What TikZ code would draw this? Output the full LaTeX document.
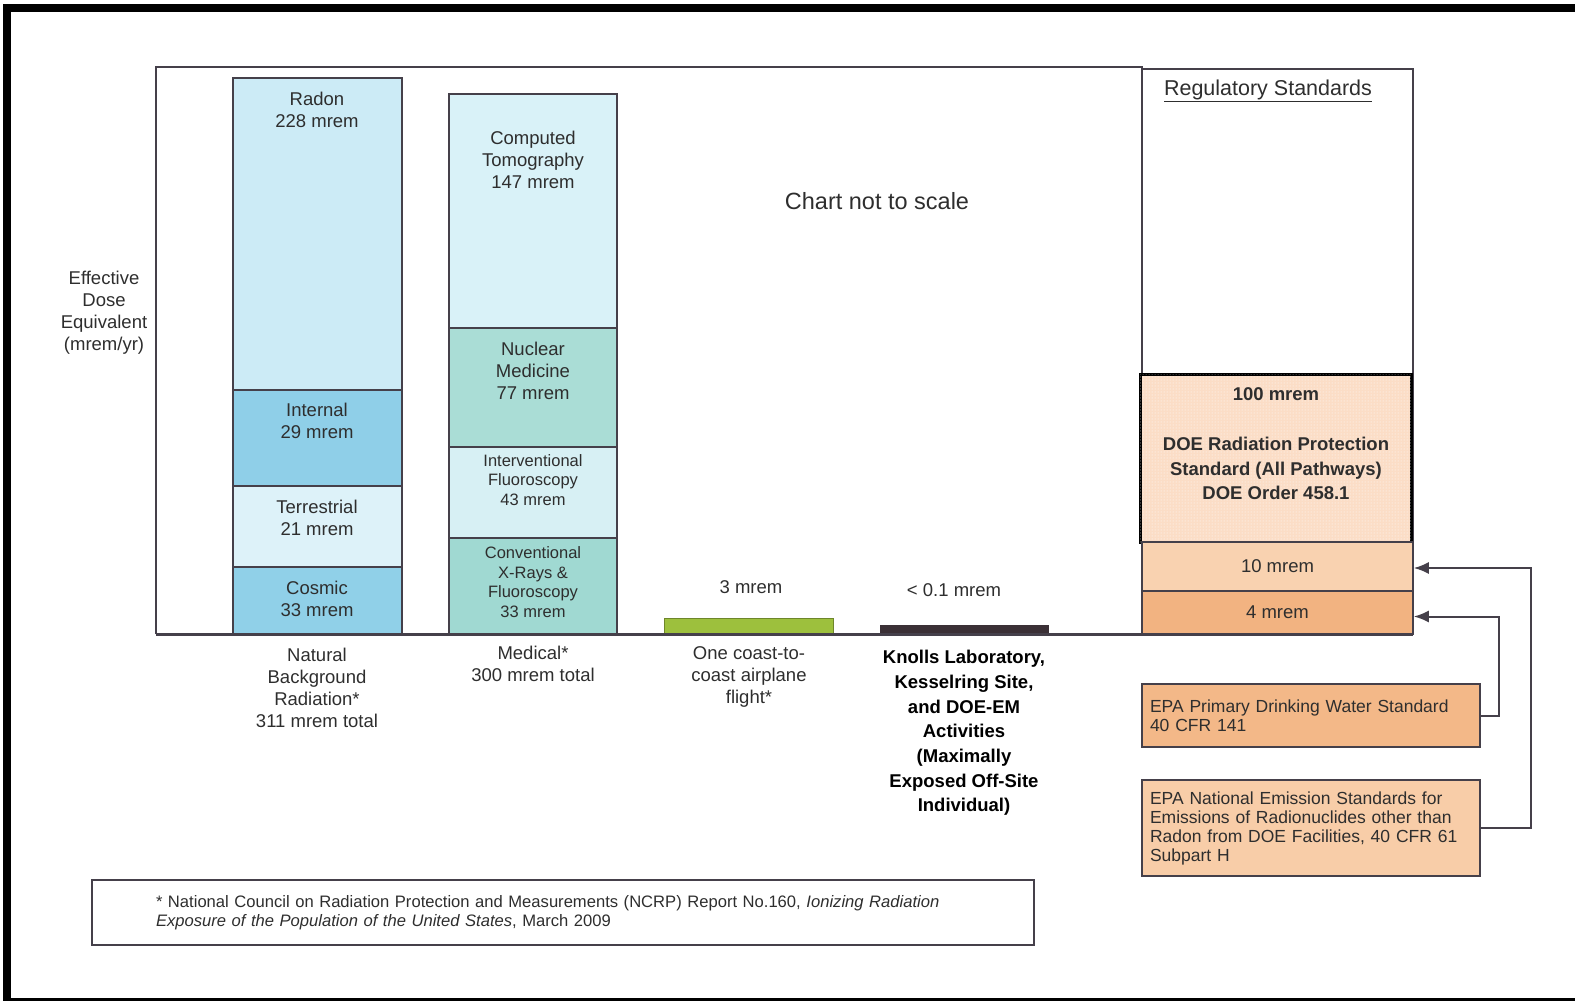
\documentclass[tikz,border=0pt]{standalone}
\usepackage{fontspec}
\setmainfont{Liberation Sans}
\usetikzlibrary{arrows.meta,patterns}

% fonts
\newcommand{\barfont}{\fontsize{18.5}{22}\selectfont}
\newcommand{\thinfont}{\fontsize{16.5}{19.5}\selectfont}
\newcommand{\epafont}{\fontsize{17.5}{19}\selectfont}
\newcommand{\notefont}{\fontsize{16.6}{18.5}\selectfont}
\newcommand{\bigfont}{\fontsize{23.5}{28}\selectfont}
\newcommand{\boldlbl}{\fontsize{18.5}{24.7}\selectfont\bfseries}

% colours
\definecolor{ink}{HTML}{2E2E2E}
\definecolor{edge}{HTML}{45404A}
\definecolor{radon}{HTML}{CCEBF6}
\definecolor{internal}{HTML}{8FCFE8}
\definecolor{terrestrial}{HTML}{DDF2F9}
\definecolor{cosmic}{HTML}{90D0E8}
\definecolor{ctscan}{HTML}{D9F2F8}
\definecolor{nucmed}{HTML}{AADDD6}
\definecolor{interv}{HTML}{D7F0F4}
\definecolor{xray}{HTML}{A0D9D2}
\definecolor{flight}{HTML}{9DC03D}
\definecolor{knolls}{HTML}{3B3036}
\definecolor{doepeach}{HTML}{FBDDC6}
\definecolor{tenmrem}{HTML}{F9D2B0}
\definecolor{fourmrem}{HTML}{F2B381}
\definecolor{epaprim}{HTML}{F3B888}
\definecolor{epanat}{HTML}{F8CDA8}

\begin{document}
\begin{tikzpicture}[x=1pt, y=-1pt,
  every node/.style={inner sep=0pt, align=center, text=ink, font=\barfont},
  seg/.style={draw=edge, line width=1.5pt},
  frame/.style={draw=edge, line width=2pt},
  regbox/.style={draw=edge, line width=1.5pt, minimum width=271pt},
  epabox/.style={draw=edge, line width=1.5pt, text width=322pt, align=left,
    inner xsep=8pt, font=\epafont},
  conn/.style={draw=edge, line width=2pt, -{Latex[length=15pt,width=12pt]}}]

\useasboundingbox (0,0) rectangle (1575,1001);

% outer frame (left, top, bottom)
\fill[black] (3,4) rectangle (1575,12);
\fill[black] (3,4) rectangle (11,1001);
\fill[black] (3,998) rectangle (1575,1001);

% chart frame and standards box
\draw[frame] (156,634) -- (156,67) -- (1142,67) -- (1142,634);
\draw[frame] (1142,69) rectangle (1413,634);

% natural background bar
\draw[seg, fill=radon]       (233,78)  rectangle (402,390);
\draw[seg, fill=internal]    (233,390) rectangle (402,486);
\draw[seg, fill=terrestrial] (233,486) rectangle (402,567);
\draw[seg, fill=cosmic]      (233,567) rectangle (402,634);

% medical bar
\draw[seg, fill=ctscan] (449,94)  rectangle (617,328);
\draw[seg, fill=nucmed] (449,328) rectangle (617,447);
\draw[seg, fill=interv] (449,447) rectangle (617,538);
\draw[seg, fill=xray]   (449,538) rectangle (617,634);

% small bars
\draw[draw=flight!70!black, line width=1pt, fill=flight] (664,618) rectangle (833,634);
\draw[draw=knolls, fill=knolls] (880,625) rectangle (1048,634);

% axis
\draw[edge, line width=3pt] (156,634) -- (1413,634);

% labels in the bars
\node (radon)  at (317,110) {Radon\\228 mrem};
\node (intl)   at (317,421) {Internal\\29 mrem};
\node (terr)   at (317,518) {Terrestrial\\21 mrem};
\node (cosm)   at (317,599) {Cosmic\\33 mrem};
\node (ct)     at (533,160) {Computed\\Tomography\\147 mrem};
\node (nuc)    at (533,371) {Nuclear\\Medicine\\77 mrem};
\node[font=\thinfont] (intv) at (533,480) {Interventional\\Fluoroscopy\\43 mrem};
\node[font=\thinfont] (conv) at (533,582) {Conventional\\X-Rays \&\\Fluoroscopy\\33 mrem};
\node (three)  at (751,587) {3 mrem};
\node (tenth)  at (954,590) {< 0.1 mrem};

% labels under the bars
\node (natural) at (317,688) {Natural\\Background\\Radiation*\\311 mrem total};
\node (medical) at (533,664) {Medical*\\300 mrem total};
\node (flightl) at (749,677) {One coast-to-\\coast airplane\\flight*};
\node[font=\boldlbl, text=black] (site) at (964,733)
  {Knolls Laboratory,\\Kesselring Site,\\and DOE-EM\\Activities\\(Maximally\\Exposed Off-Site\\Individual)};

% axis title and note
\node (dose)  at (104,313) {Effective\\Dose\\Equivalent\\(mrem/yr)};
\node[font=\bigfont] (scale) at (877,201) {Chart not to scale};
\node[font=\fontsize{21.5}{26}\selectfont] (regs) at (1268,91) {\underline{Regulatory Standards}};

% standards
\node[regbox, draw=black, line width=3pt, minimum width=271pt, minimum height=168pt,
  fill=doepeach, postaction={pattern=dots, pattern color=white}] (doe) at (1275.5,458) {};
\node[font=\boldlbl] (doetxt) at (1276,444)
  {100 mrem\\[24.7pt]DOE Radiation Protection\\Standard (All Pathways)\\DOE Order 458.1};
\node[regbox, fill=tenmrem, minimum height=49pt] (ten) at (1277.5,566.5) {10 mrem};
\node[regbox, fill=fourmrem, minimum height=43pt] (four) at (1277.5,612.5) {4 mrem};

% EPA boxes
\node[epabox, fill=epaprim, minimum height=63pt] (epaprim) at (1311,715.5)
  {EPA Primary Drinking Water Standard\\40 CFR 141};
\node[epabox, fill=epanat, minimum height=96pt] (epanat) at (1311,828)
  {EPA National Emission Standards for\\Emissions of Radionuclides other than\\Radon from DOE Facilities, 40 CFR 61\\Subpart H};

% connectors
\draw[conn] (epaprim.east) -- ++(18,0) |- ([yshift=-4pt]four.east);
\draw[conn] (epanat.east) -- ++(50,0) |- ([yshift=-1.5pt]ten.east);

% footnote
\node[draw=edge, line width=1.5pt, text width=814pt, inner xsep=64pt, minimum height=65pt,
  align=left, font=\notefont] (note) at (563,912.5)
  {* National Council on Radiation Protection and Measurements (NCRP) Report No.160, \textit{Ionizing Radiation}\\
   \textit{Exposure of the Population of the United States}, March 2009};

\end{tikzpicture}
\end{document}
